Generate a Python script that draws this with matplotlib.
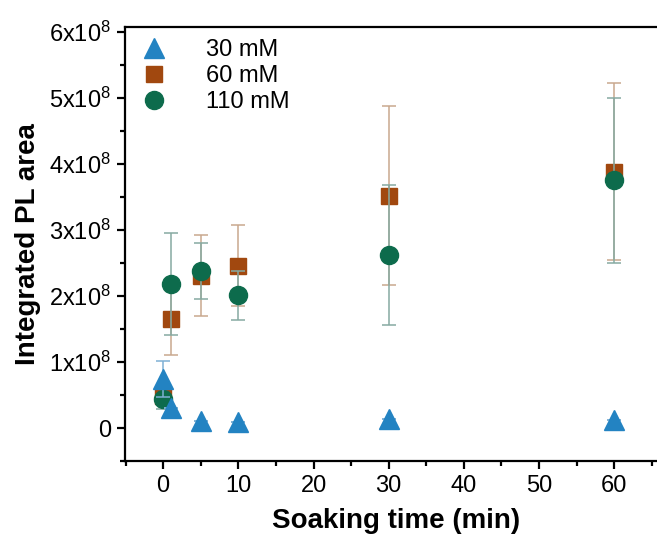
import numpy as np
import matplotlib.pyplot as plt
from matplotlib.ticker import MultipleLocator, FuncFormatter

plt.rcParams['font.family'] = ['Liberation Sans', 'DejaVu Sans']
plt.rcParams['mathtext.fontset'] = 'custom'
plt.rcParams['mathtext.rm'] = 'Liberation Sans'
plt.rcParams['mathtext.it'] = 'Liberation Sans'

# soaking time (min)
time_min = [0, 1, 5, 10, 30, 60]

# integrated PL area, units of 1e8
pl_30 = [0.74, 0.30, 0.10, 0.09, 0.13, 0.12]
err_30 = [0.27, 0.0, 0.0, 0.0, 0.0, 0.0]
pl_60 = [0.49, 1.65, 2.31, 2.46, 3.52, 3.88]
err_60 = [0.08, 0.54, 0.62, 0.61, 1.35, 1.34]
pl_110 = [0.44, 2.18, 2.38, 2.01, 2.62, 3.75]
err_110 = [0.15, 0.77, 0.43, 0.37, 1.06, 1.25]

fig = plt.figure(figsize=(6.57, 5.45), dpi=100)
ax = fig.add_axes([0.190, 0.154, 0.825, 0.796])

scale = 1e8
ax.errorbar(time_min, np.array(pl_60) * scale, yerr=np.array(err_60) * scale,
            fmt='s', color='#a1480f', ms=11, ecolor='#c9a88e', elinewidth=1.1,
            capsize=5, capthick=1.1, label='60 mM', zorder=3)
ax.errorbar(time_min, np.array(pl_110) * scale, yerr=np.array(err_110) * scale,
            fmt='o', color='#0d6b4c', ms=13, ecolor='#86aaa2', elinewidth=1.1,
            capsize=5, capthick=1.1, label='110 mM', zorder=4)
ax.errorbar(time_min, np.array(pl_30) * scale, yerr=np.array(err_30) * scale,
            fmt='^', color='#2383c2', ms=14, ecolor='#7fb0d4', elinewidth=1.1,
            capsize=5, capthick=1.1, label='30 mM', zorder=5)

ax.set_xlim(-5.1, 67)
ax.set_ylim(-0.5e8, 6.07e8)

ax.xaxis.set_major_locator(MultipleLocator(10))
ax.xaxis.set_minor_locator(MultipleLocator(5))
ax.yaxis.set_major_locator(MultipleLocator(1e8))
ax.yaxis.set_minor_locator(MultipleLocator(0.5e8))


def sci_fmt(v, pos):
    n = int(round(v / 1e8))
    if n == 0:
        return '0'
    return r'%dx10$^{8}$' % n


ax.yaxis.set_major_formatter(FuncFormatter(sci_fmt))

for sp in ax.spines.values():
    sp.set_linewidth(1.6)
ax.spines['right'].set_visible(False)
ax.tick_params(which='major', direction='out', length=6, width=1.6,
               labelsize=17, pad=4)
ax.tick_params(which='minor', direction='out', length=3.5, width=1.6)

ax.set_xlabel('Soaking time (min)', fontsize=20, fontweight='bold', labelpad=8)
ax.set_ylabel('Integrated PL area', fontsize=20, fontweight='bold', labelpad=6)

handles, labels = ax.get_legend_handles_labels()
order = [2, 0, 1]
leg = ax.legend([handles[i][0] for i in order], [labels[i] for i in order],
                loc='upper left', frameon=False, fontsize=17,
                handlelength=1.2, handletextpad=1.6, labelspacing=0.18,
                borderaxespad=0.0, bbox_to_anchor=(0.01, 0.995))

fig.savefig('out.png', dpi=100)
